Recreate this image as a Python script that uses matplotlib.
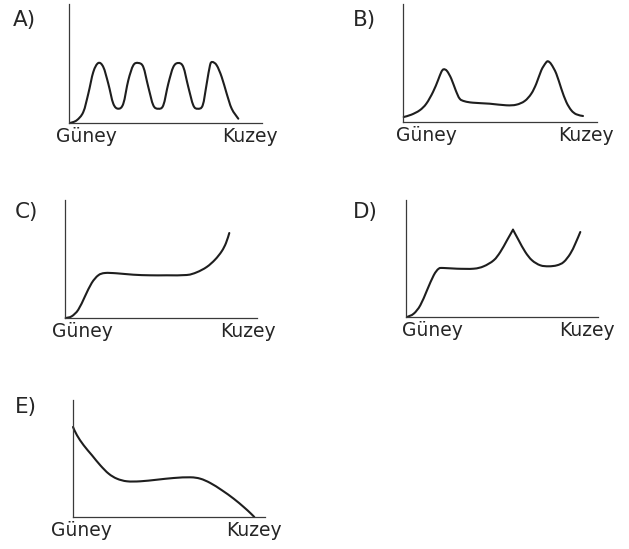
import numpy as np
import matplotlib
matplotlib.use('Agg')
import matplotlib.pyplot as plt
from matplotlib.path import Path
from matplotlib.patches import PathPatch

plt.rcParams['font.family'] = ['DejaVu Sans']

# distance from the south end (x) and amount (y), in axis units
a_x = [1, 7.7, 14.3, 19.3, 24.3, 29.3, 34.3, 39.3, 44.3, 49.3, 54.3, 59.3, 64.3, 69.3,
       74.3, 79.3, 84.3, 89.3, 94.3, 99.3, 104.3, 109.3, 114.3, 119.3, 124.3, 128.7,
       133.7, 137.7, 141, 143.3, 147.7, 152.7, 157.7, 162.7, 169.3]
a_y = [0, 2.7, 11, 29.3, 51, 60, 56, 39.3, 19.3, 14.3, 19.3, 42.7, 57.7, 60,
       56, 36, 17.7, 14.3, 17.7, 39.3, 56, 60, 56, 36, 17.7, 14.3,
       17.7, 39.3, 57.7, 61, 57.7, 46, 29.3, 14.3, 4.3]

b_x = [0.7, 8.3, 16.7, 23.3, 30, 35, 38.3, 40.7, 44, 48.3, 52.7, 56.7, 61.7, 70, 86.7,
       103.3, 113.3, 121.7, 128.3, 133.3, 138.3, 142.7, 145, 148.3, 153.3, 158.3,
       163.3, 168.3, 173.3, 180]
b_y = [5, 7.3, 11.7, 18.3, 30, 41.7, 50, 52.7, 51, 43.3, 31.7, 23.3, 20.7, 19.3, 18.3,
       16.7, 17.3, 21, 28.3, 38.3, 51.7, 59, 60.7, 57.7, 48.3, 33.3,
       20, 11.7, 7.7, 6]

c_x = [0.7, 6.7, 13.3, 20, 26.7, 33.3, 40, 51.7, 68.3, 85, 101.7, 121.7, 131.7,
       141.7, 150, 156.7, 161, 164.3]
c_y = [0, 1.7, 8.3, 21.7, 35, 42.7, 45, 44.7, 43.3, 42.7, 42.7, 43, 45.7,
       51, 58.3, 66.7, 75, 85]

d_x = [1, 7.7, 14.3, 21, 27.7, 32.7, 37.7, 51, 67.7, 77.7, 87.7, 94.3, 101, 107,
       112.7, 119.3, 126, 134.3, 142.7, 151, 157.7, 164.3, 169.3, 174.3]
d_y = [0, 3.3, 11.7, 26.7, 41.7, 48.3, 49, 48.3, 48.3, 50.7, 56.7, 65, 76.7, 87.3,
       76.7, 65, 56.7, 51.7, 50.7, 51.7, 55, 63.3, 73.3, 85]
d_cusp = 13  # index of the sharp peak

e_x = [0, 4, 10.7, 19, 27.3, 35.7, 44, 54, 67.3, 84, 100.7, 117.3, 127.3, 137.3,
       149, 160.7, 170.7, 177.3, 181.3]
e_y = [90, 81.7, 71.7, 61.7, 51.7, 43.3, 38.3, 35.7, 35.7, 37.3, 39, 39.7, 38.3, 34,
       26.7, 18.3, 10, 4, 0]

options = ['A)', 'B)', 'C)', 'D)', 'E)']
series = [(a_x, a_y), (b_x, b_y), (c_x, c_y), (d_x, d_y), (e_x, e_y)]
breaks = [None, None, None, d_cusp, None]

W, H = 629, 549
# axes boxes in pixels: left, bottom (from top), width, height
boxes = [(69, 123, 193, 119), (403, 122, 194, 118), (65, 318, 192, 118),
         (406, 317, 192, 117), (73, 517, 192, 117)]
guney_dx = [17, 23, 17, 26, 8]
kuzey_dx = [-12, -11, -9, -11, -11]
letter_pos = [(13, 20), (353, 20), (15, 212), (353, 212), (15, 407)]

line_col = '#1e1e1e'
txt_col = '#262626'


def smooth_path(xs, ys):
    # Catmull-Rom through the points, written as cubic Bezier segments
    p = np.column_stack([xs, ys]).astype(float)
    ext = np.vstack([p[0], p, p[-1]])
    verts = [p[0]]
    codes = [Path.MOVETO]
    for i in range(len(p) - 1):
        p0, p1, p2, p3 = ext[i], ext[i + 1], ext[i + 2], ext[i + 3]
        verts += [p1 + (p2 - p0) / 6, p2 - (p3 - p1) / 6, p2]
        codes += [Path.CURVE4] * 3
    return Path(verts, codes)


fig = plt.figure(figsize=(W / 100, H / 100), dpi=100)
fig.patch.set_facecolor('white')

for (left, bottom, w, h), (xs, ys), opt, brk, gdx, kdx, (lx, ly) in zip(
        boxes, series, options, breaks, guney_dx, kuzey_dx, letter_pos):
    ax = fig.add_axes([left / W, 1 - bottom / H, w / W, h / H])
    parts = [(xs, ys)] if brk is None else [(xs[:brk + 1], ys[:brk + 1]),
                                            (xs[brk:], ys[brk:])]
    for px, py in parts:
        ax.add_patch(PathPatch(smooth_path(px, py), fill=False, edgecolor=line_col,
                               lw=1.5, joinstyle='round', capstyle='round',
                               clip_on=False))
    ax.set_xlim(0, w)
    ax.set_ylim(0, h)
    for s in ['top', 'right']:
        ax.spines[s].set_visible(False)
    for s in ['left', 'bottom']:
        ax.spines[s].set_color('#3a3a3a')
        ax.spines[s].set_linewidth(0.9)
    ax.set_xticks([])
    ax.set_yticks([])
    ax.patch.set_alpha(0)

    fig.text((left + gdx) / W, 1 - (bottom + 4) / H, 'Güney', ha='center', va='top',
             fontsize=13.5, color=txt_col)
    fig.text((left + w + kdx) / W, 1 - (bottom + 4) / H, 'Kuzey', ha='center', va='top',
             fontsize=13.5, color=txt_col)
    fig.text(lx / W, 1 - ly / H, opt, ha='left', va='center', fontsize=15.5, color=txt_col)

plt.savefig('out.png', dpi=100, facecolor='white')
plt.close()
